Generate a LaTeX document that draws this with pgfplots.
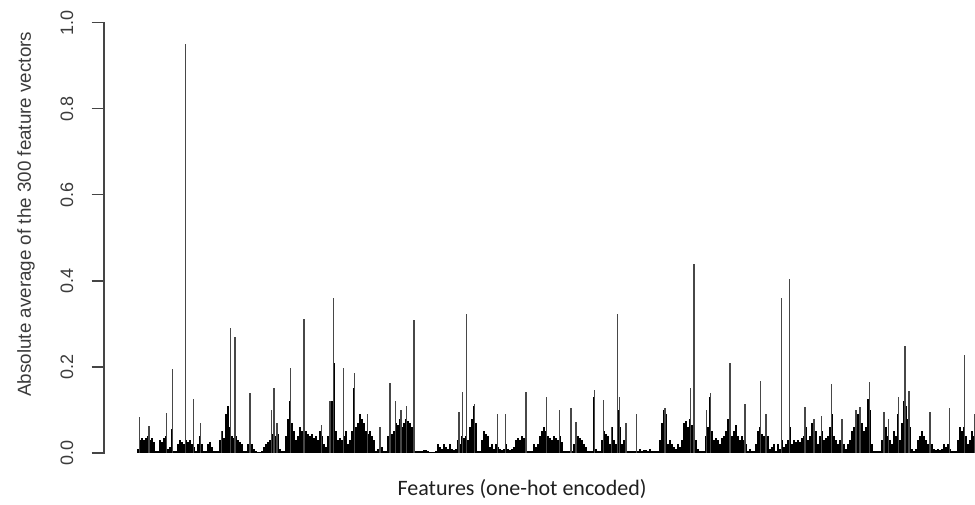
\documentclass[border=0pt]{standalone}
\usepackage{pgfplots}
\pgfplotsset{compat=1.18}
\usepackage{fontspec}
\setmainfont{Liberation Sans}
\newfontfamily\calibri{Carlito}
\colorlet{txtgray}{black!77}
\begin{document}
\begin{tikzpicture}
\useasboundingbox (0pt,0pt) rectangle (975pt,505pt);
\begin{axis}[
  at={(104pt,52pt)}, anchor=south west,
  scale only axis, width=871pt, height=430.3pt,
  xmin=104, xmax=975, ymin=0, ymax=1,
  hide x axis,
  axis y line=left,
  y axis line style={draw=black!73, line width=1.2pt, -},
  ytick={0,0.2,0.4,0.6,0.8,1.0},
  yticklabels={0.0,0.2,0.4,0.6,0.8,1.0},
  tick align=outside, major tick length=12pt,
  ytick style={draw=black!73, line width=1.2pt},
  yticklabel style={xshift=-25pt, rotate=90, anchor=center, font=\fontsize{18}{20}\selectfont, text=txtgray},
  /pgf/number format/assume math mode=true,
  ylabel={Absolute average of the 300 feature vectors},
  every axis y label/.style={at={(axis description cs:-0.0895,0.555)}, rotate=90, anchor=center, font=\fontsize{18.8}{21}\selectfont, text=txtgray},
  clip=false,
]
\addplot[ycomb, black, line width=2.05pt, mark=none] coordinates {
(138,0.01)(140,0.03)(142,0.035)(144,0.03)(146,0.035)(148,0.04)(150,0.03)(152,0.035)(154,0.025)(156,0.005)(158,0.004)
(160,0.03)(162,0.025)(164,0.035)(166,0.04)(168,0.01)(170,0.015)(172,0.055)(174,0.005)(176,0.004)(178,0.02)
(180,0.03)(182,0.025)(184,0.02)(186,0.03)(188,0.025)(190,0.03)(192,0.02)(194,0.015)(196,0.005)(198,0.02)
(200,0.04)(202,0.02)(204,0.005)(206,0.004)(208,0.02)(210,0.025)(212,0.015)(214,0.004)(216,0.004)(218,0.004)
(220,0.03)(222,0.05)(224,0.035)(226,0.09)(228,0.11)(230,0.06)(232,0.04)(234,0.035)(236,0.04)(238,0.03)
(240,0.025)(242,0.02)(244,0.005)(246,0.004)(248,0.02)(250,0.015)(252,0.02)(254,0.01)(256,0.004)(258,0.003)
(260,0.003)(262,0.004)(264,0.015)(266,0.02)(268,0.025)(270,0.03)(272,0.045)(274,0.05)(276,0.04)(278,0.045)
(280,0.01)(282,0.005)(284,0.005)(286,0.04)(288,0.08)(290,0.12)(292,0.07)(294,0.05)(296,0.03)(298,0.04)
(300,0.06)(302,0.05)(304,0.16)(306,0.05)(308,0.045)(310,0.04)(312,0.045)(314,0.035)(316,0.04)(318,0.03)
(320,0.05)(322,0.04)(324,0.02)(326,0.015)(328,0.04)(330,0.07)(332,0.12)(334,0.21)(336,0.05)(338,0.03)
(340,0.035)(342,0.03)(344,0.04)(346,0.05)(348,0.02)(350,0.03)(352,0.05)(354,0.15)(356,0.06)(358,0.07)
(360,0.09)(362,0.08)(364,0.07)(366,0.05)(368,0.045)(370,0.05)(372,0.04)(374,0.03)(376,0.005)(378,0.01)
(380,0.02)(382,0.015)(384,0.004)(386,0.005)(388,0.04)(390,0.05)(392,0.045)(394,0.05)(396,0.07)(398,0.065)
(400,0.08)(402,0.06)(404,0.07)(406,0.08)(408,0.075)(410,0.07)(412,0.06)(414,0.02)(416,0.004)(418,0.004)
(420,0.004)(422,0.004)(424,0.008)(426,0.006)(428,0.004)(430,0.003)(432,0.003)(434,0.003)(436,0.004)(438,0.02)
(440,0.015)(442,0.01)(444,0.02)(446,0.015)(448,0.01)(450,0.02)(452,0.01)(454,0.008)(456,0.01)(458,0.03)
(460,0.02)(462,0.04)(464,0.035)(466,0.04)(468,0.03)(470,0.06)(472,0.08)(474,0.11)(476,0.07)(478,0.005)
(480,0.004)(482,0.03)(484,0.05)(486,0.045)(488,0.04)(490,0.015)(492,0.02)(494,0.01)(496,0.02)(498,0.015)
(500,0.01)(502,0.008)(504,0.01)(506,0.02)(508,0.01)(510,0.008)(512,0.01)(514,0.015)(516,0.03)(518,0.035)
(520,0.03)(522,0.04)(524,0.035)(526,0.045)(528,0.004)(530,0.004)(532,0.004)(534,0.02)(536,0.015)(538,0.02)
(540,0.04)(542,0.05)(544,0.06)(546,0.05)(548,0.04)(550,0.035)(552,0.03)(554,0.04)(556,0.035)(558,0.03)
(560,0.04)(562,0.025)(564,0.005)(566,0.004)(568,0.005)(570,0.005)(572,0.004)(574,0.02)(576,0.05)(578,0.04)
(580,0.035)(582,0.03)(584,0.02)(586,0.015)(588,0.004)(590,0.004)(592,0.004)(594,0.13)(596,0.01)(598,0.004)
(600,0.004)(602,0.03)(604,0.05)(606,0.045)(608,0.04)(610,0.02)(612,0.06)(614,0.03)(616,0.02)(618,0.1)
(620,0.06)(622,0.02)(624,0.03)(626,0.02)(628,0.005)(630,0.004)(632,0.004)(634,0.004)(636,0.005)(638,0.004)
(640,0.01)(642,0.005)(644,0.008)(646,0.006)(648,0.005)(650,0.01)(652,0.004)(654,0.004)(656,0.004)(658,0.005)
(660,0.03)(662,0.07)(664,0.1)(666,0.09)(668,0.02)(670,0.03)(672,0.02)(674,0.015)(676,0.01)(678,0.02)
(680,0.015)(682,0.03)(684,0.07)(686,0.075)(688,0.06)(690,0.08)(692,0.065)(694,0.06)(696,0.03)(698,0.01)
(700,0.004)(702,0.004)(704,0.004)(706,0.04)(708,0.06)(710,0.13)(712,0.05)(714,0.03)(716,0.035)(718,0.03)
(720,0.02)(722,0.035)(724,0.04)(726,0.05)(728,0.08)(730,0.06)(732,0.04)(734,0.05)(736,0.065)(738,0.04)
(740,0.03)(742,0.04)(744,0.03)(746,0.02)(748,0.005)(750,0.01)(752,0.005)(754,0.004)(756,0.02)(758,0.05)
(760,0.06)(762,0.045)(764,0.04)(766,0.03)(768,0.04)(770,0.01)(772,0.015)(774,0.02)(776,0.005)(778,0.02)
(780,0.01)(782,0.03)(784,0.015)(786,0.02)(788,0.03)(790,0.06)(792,0.02)(794,0.03)(796,0.025)(798,0.03)
(800,0.025)(802,0.035)(804,0.04)(806,0.06)(808,0.03)(810,0.04)(812,0.07)(814,0.06)(816,0.05)(818,0.02)
(820,0.04)(822,0.05)(824,0.03)(826,0.035)(828,0.04)(830,0.06)(832,0.09)(834,0.04)(836,0.03)(838,0.02)
(840,0.03)(842,0.025)(844,0.02)(846,0.01)(848,0.02)(850,0.03)(852,0.05)(854,0.06)(856,0.08)(858,0.09)
(860,0.1)(862,0.07)(864,0.05)(866,0.06)(868,0.125)(870,0.1)(872,0.02)(874,0.004)(876,0.004)(878,0.004)
(880,0.005)(882,0.03)(884,0.05)(886,0.06)(888,0.04)(890,0.03)(892,0.02)(894,0.05)(896,0.04)(898,0.09)
(900,0.03)(902,0.07)(904,0.12)(906,0.11)(908,0.08)(910,0.06)(912,0.01)(914,0.004)(916,0.01)(918,0.03)
(920,0.04)(922,0.05)(924,0.04)(926,0.03)(928,0.02)(930,0.05)(932,0.02)(934,0.01)(936,0.008)(938,0.01)
(940,0.008)(942,0.01)(944,0.02)(946,0.015)(948,0.02)(950,0.01)(952,0.005)(954,0.004)(956,0.005)(958,0.03)
(960,0.06)(962,0.05)(964,0.06)(966,0.04)(968,0.02)(970,0.03)(972,0.05)(974,0.04)
};
\addplot[ycomb, black!72, line width=1.25pt, mark=none] coordinates {
(139.3,0.084)(149,0.063)(166.7,0.093)(172.3,0.195)(185.7,0.95)(193.3,0.125)(200.7,0.069)(221.7,0.05)
(230.7,0.29)(235,0.269)(250,0.139)(271.7,0.10)(274,0.15)(277,0.07)(290.7,0.197)(304,0.312)
(321.7,0.065)(330,0.12)(333.3,0.36)(343.3,0.197)(354.3,0.185)(367.3,0.09)(380,0.06)(390,0.162)
(395.7,0.12)(401,0.1)(406.7,0.11)(414,0.31)(459,0.095)(462.7,0.142)(466.7,0.323)(474.3,0.115)
(497.3,0.09)(505.7,0.09)(526,0.142)(546.7,0.13)(559.3,0.1)(571,0.104)(576,0.073)(594.3,0.146)
(603.3,0.123)(611.7,0.06)(617.7,0.322)(619.5,0.13)(626,0.07)(636.7,0.09)(665,0.105)(690.7,0.15)
(694,0.44)(706.7,0.1)(710.7,0.139)(730,0.21)(745,0.113)(760.7,0.167)(766,0.09)(781.7,0.36)
(789.3,0.405)(805,0.108)(814,0.08)(821.7,0.085)(831.7,0.16)(842,0.08)(856,0.1)(860,0.108)
(869.3,0.164)(884,0.095)(888.7,0.08)(898.7,0.13)(905,0.249)(909,0.143)(930,0.095)(949.3,0.105)
(964.7,0.227)(974.3,0.09)
};
\addplot[black!73, line width=1.3pt, mark=none] coordinates {(104,0) (104,1)};
\node[anchor=base, font=\calibri\fontsize{22}{24}\selectfont, text=black!88] at (axis description cs:0.48,-0.0999) {Features (one-hot encoded)};
\end{axis}
% R-style y axis line and outward ticks, at the axis' own positions
\draw[black!73, line width=1.3pt] (104pt,51.4pt) -- (104pt,482.9pt);
\draw[black!73, line width=1.3pt] (91.5pt,52pt) -- (104pt,52pt);
\draw[black!73, line width=1.3pt] (91.5pt,138.06pt) -- (104pt,138.06pt);
\draw[black!73, line width=1.3pt] (91.5pt,224.12pt) -- (104pt,224.12pt);
\draw[black!73, line width=1.3pt] (91.5pt,310.18pt) -- (104pt,310.18pt);
\draw[black!73, line width=1.3pt] (91.5pt,396.24pt) -- (104pt,396.24pt);
\draw[black!73, line width=1.3pt] (91.5pt,482.3pt) -- (104pt,482.3pt);
\end{tikzpicture}
\end{document}
